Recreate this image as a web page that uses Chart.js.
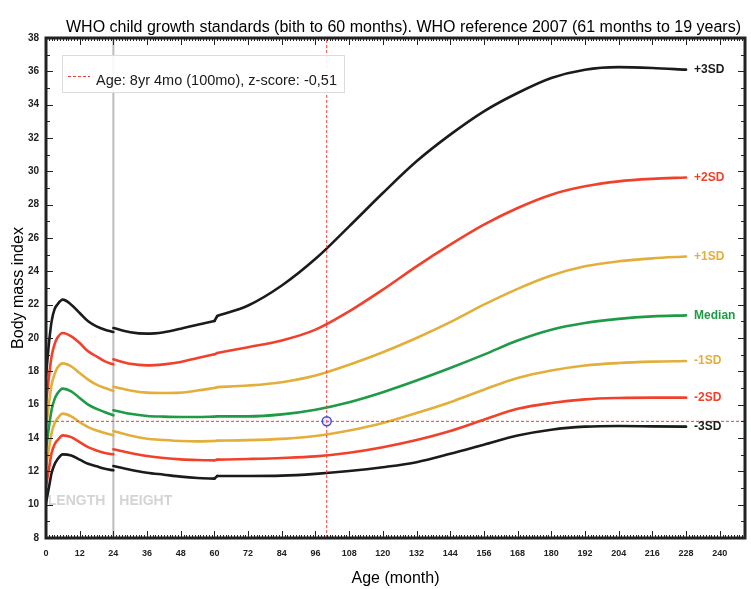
<!DOCTYPE html>
<html>
<head>
<meta charset="utf-8">
<script src="https://cdn.jsdelivr.net/npm/chart.js@4.4.1/dist/chart.umd.min.js"></script>
<style>
  body { margin: 0; background: #fff; }
</style>
</head>
<body>
<canvas id="bmiChart" width="751" height="589"></canvas>
<script>
// ages in months: recumbent length up to 24mo, standing height after,
// WHO 2007 reference from 61mo on
const lengthMonths = [0, 1, 2, 3, 4, 6, 9, 12, 15, 18, 21, 24];
const heightMonths = [24, 30, 36, 42, 48, 54, 60, 61, 72, 84, 96, 108, 120, 132, 144, 156, 168, 180, 192, 204, 216, 228];
const xTickValues = [0, 12, 24, 36, 48, 60, 72, 84, 96, 108, 120, 132, 144, 156, 168, 180, 192, 204, 216, 228, 240];

// BMI curves
const plus3Length  = [17.7, 19.6, 21.0, 21.7, 22.0, 22.3, 22.0, 21.5, 21.0, 20.7, 20.5, 20.36];
const plus3Height  = [20.6, 20.35, 20.26, 20.35, 20.56, 20.8, 21.02, 21.32, 21.95, 23.15, 24.75, 26.7, 28.7, 30.6, 32.2, 33.6, 34.7, 35.6, 36.1, 36.25, 36.2, 36.1];
const plus2Length  = [16.1, 17.6, 18.9, 19.6, 20.0, 20.3, 20.1, 19.7, 19.2, 18.9, 18.6, 18.42];
const plus2Height  = [18.72, 18.45, 18.36, 18.42, 18.56, 18.8, 19.02, 19.1, 19.45, 19.85, 20.5, 21.6, 22.9, 24.3, 25.6, 26.8, 27.8, 28.6, 29.1, 29.4, 29.55, 29.63];
const plus1Length  = [14.6, 16.0, 17.2, 17.8, 18.2, 18.48, 18.3, 17.9, 17.5, 17.2, 17.0, 16.82];
const plus1Height  = [17.08, 16.85, 16.72, 16.7, 16.72, 16.85, 17.0, 17.05, 17.15, 17.35, 17.75, 18.4, 19.15, 20.0, 20.95, 22.0, 22.95, 23.75, 24.3, 24.6, 24.78, 24.89];
const medianLength = [13.3, 14.6, 15.7, 16.3, 16.65, 16.96, 16.8, 16.4, 16.0, 15.75, 15.55, 15.36];
const medianHeight = [15.66, 15.45, 15.32, 15.28, 15.26, 15.26, 15.28, 15.3, 15.3, 15.42, 15.7, 16.15, 16.75, 17.45, 18.2, 19.0, 19.85, 20.5, 20.9, 21.15, 21.3, 21.36];
const minus1Length = [12.2, 13.3, 14.3, 14.85, 15.15, 15.46, 15.3, 14.95, 14.65, 14.45, 14.3, 14.16];
const minus1Height = [14.42, 14.15, 13.96, 13.88, 13.82, 13.8, 13.82, 13.84, 13.87, 13.95, 14.12, 14.45, 14.9, 15.5, 16.15, 16.9, 17.6, 18.05, 18.35, 18.5, 18.58, 18.62];
const minus2Length = [11.1, 12.1, 13.1, 13.6, 13.85, 14.16, 14.05, 13.75, 13.45, 13.25, 13.1, 13.02];
const minus2Height = [13.32, 13.1, 12.92, 12.8, 12.72, 12.68, 12.66, 12.7, 12.74, 12.8, 12.9, 13.12, 13.45, 13.88, 14.42, 15.1, 15.75, 16.1, 16.32, 16.4, 16.42, 16.42];
const minus3Length = [10.1, 11.0, 11.9, 12.4, 12.7, 13.02, 12.95, 12.7, 12.45, 12.3, 12.15, 12.06];
const minus3Height = [12.32, 12.1, 11.92, 11.8, 11.68, 11.6, 11.56, 11.72, 11.72, 11.74, 11.85, 12.02, 12.25, 12.55, 13.05, 13.6, 14.15, 14.5, 14.68, 14.72, 14.7, 14.68];

// the child being plotted
const patientAge = 100;
const patientBmi = 15.0;
const patientLabel = 'Age: 8yr 4mo (100mo), z-score: -0,51';

const xMin = 0, xMax = 249, yMin = 8, yMax = 38;
const referenceStart = 61;
const chartTitle = 'WHO child growth standards (bith to 60 months). WHO reference 2007 (61 months to 19 years)';

const BLACK = '#1b1b1b', RED = '#f2412b', GOLD = '#e3ae3a', GREEN = '#1f9a45';

function toPoints(months, values) {
  return months.map((m, i) => ({ x: m, y: values[i] }));
}

function curve(label, points, color) {
  return {
    label: label,
    data: points,
    borderColor: color,
    borderWidth: 2.6,
    borderCapStyle: 'round',
    pointRadius: 0,
    cubicInterpolationMode: 'monotone',
    fill: false,
    order: 2
  };
}

const curveDefs = [
  ['+3SD', plus3Length, plus3Height, BLACK],
  ['+2SD', plus2Length, plus2Height, RED],
  ['+1SD', plus1Length, plus1Height, GOLD],
  ['Median', medianLength, medianHeight, GREEN],
  ['-1SD', minus1Length, minus1Height, GOLD],
  ['-2SD', minus2Length, minus2Height, RED],
  ['-3SD', minus3Length, minus3Height, BLACK]
];

const datasets = [];
curveDefs.forEach(c => {
  const heightPts = toPoints(heightMonths, c[2]);
  const standard = heightPts.filter(p => p.x < referenceStart);
  const reference = heightPts.filter(p => p.x >= referenceStart);
  datasets.push(curve(c[0], toPoints(lengthMonths, c[1]), c[3]));
  datasets.push(curve(c[0], standard, c[3]));
  // short join between the 60mo standard and the 61mo reference
  datasets.push(curve(c[0], [standard[standard.length - 1], reference[0]], c[3]));
  const ref = curve(c[0], reference, c[3]);
  ref.endLabel = true;
  datasets.push(ref);
});

// length / height boundary
datasets.push({
  label: 'boundary',
  data: [{ x: 24, y: yMin }, { x: 24, y: yMax }],
  borderColor: '#bdbdbd', borderWidth: 2, pointRadius: 0, order: 5
});
// patient cross-hair
datasets.push({
  label: patientLabel,
  data: [{ x: patientAge, y: yMin }, { x: patientAge, y: yMax }],
  borderColor: '#e8433a', borderWidth: 1, borderDash: [3, 2], pointRadius: 0, order: 1
});
datasets.push({
  label: 'bmi line',
  data: [{ x: xMin, y: patientBmi }, { x: xMax, y: patientBmi }],
  borderColor: '#e8433a', borderWidth: 1, borderDash: [3, 2], pointRadius: 0, order: 1
});
datasets.push({
  label: 'patient',
  data: [{ x: patientAge, y: patientBmi }],
  showLine: false,
  pointRadius: 4.5,
  pointBorderWidth: 1.5,
  pointBorderColor: '#4b4bd0',
  pointBackgroundColor: 'rgba(120,120,255,0.15)',
  order: 0
});

const decorations = {
  id: 'decorations',
  beforeDatasetsDraw(chart) {
    const { ctx, chartArea: a, scales: { x, y } } = chart;
    ctx.save();
    ctx.beginPath();
    ctx.rect(a.left + 3, a.top, a.right - a.left, a.bottom - a.top);
    ctx.clip();
    ctx.font = 'bold 14px "Liberation Sans", Arial, sans-serif';
    ctx.fillStyle = '#d4d4d4';
    ctx.textBaseline = 'middle';
    ctx.textAlign = 'right';
    ctx.fillText('LENGTH', x.getPixelForValue(24) - 8, y.getPixelForValue(10.2));
    ctx.textAlign = 'left';
    ctx.fillText('HEIGHT', x.getPixelForValue(24) + 6, y.getPixelForValue(10.2));
    ctx.restore();
  },
  afterDatasetsDraw(chart) {
    const { ctx, chartArea: a, scales: { x, y } } = chart;
    ctx.save();

    // curve names at the end of each line
    ctx.font = 'bold 12px "Liberation Sans", Arial, sans-serif';
    ctx.textBaseline = 'middle';
    ctx.textAlign = 'left';
    chart.data.datasets.forEach((ds, i) => {
      if (!ds.endLabel) return;
      const pts = chart.getDatasetMeta(i).data;
      const last = pts[pts.length - 1];
      ctx.fillStyle = ds.borderColor;
      ctx.fillText(ds.label, last.x + 8, last.y);
    });

    // frame with inward ticks
    ctx.strokeStyle = '#222';
    ctx.lineWidth = 3;
    ctx.strokeRect(a.left, a.top, a.right - a.left, a.bottom - a.top);
    ctx.lineWidth = 1;
    ctx.beginPath();
    for (let m = xMin; m <= xMax; m++) {
      const px = Math.round(x.getPixelForValue(m)) + 0.5;
      const len = m % 12 === 0 ? 7 : 3;
      ctx.moveTo(px, a.bottom); ctx.lineTo(px, a.bottom - len);
      ctx.moveTo(px, a.top); ctx.lineTo(px, a.top + len);
    }
    for (let v = yMin; v <= yMax; v++) {
      const py = Math.round(y.getPixelForValue(v)) + 0.5;
      const len = v % 2 === 0 ? 7 : 4;
      ctx.moveTo(a.left, py); ctx.lineTo(a.left + len, py);
      ctx.moveTo(a.right, py); ctx.lineTo(a.right - len, py);
    }
    ctx.stroke();

    // legend box
    const lx = a.left + 16, ly = a.top + 17;
    ctx.fillStyle = 'rgba(255,255,255,0.9)';
    ctx.fillRect(lx, ly, 282, 37);
    ctx.strokeStyle = '#dcdcdc';
    ctx.strokeRect(lx + 0.5, ly + 0.5, 282, 37);
    ctx.strokeStyle = '#e8433a';
    ctx.setLineDash([3, 2]);
    ctx.beginPath();
    ctx.moveTo(lx + 6, ly + 21.5); ctx.lineTo(lx + 28, ly + 21.5);
    ctx.stroke();
    ctx.setLineDash([]);
    ctx.fillStyle = '#1a1a1a';
    ctx.font = '14.5px "Liberation Sans", Arial, sans-serif';
    ctx.textBaseline = 'middle';
    ctx.fillText(patientLabel, lx + 34, ly + 26);

    // title over the plot area
    ctx.font = '16px "Liberation Sans", Arial, sans-serif';
    ctx.textAlign = 'center';
    ctx.fillStyle = '#000';
    ctx.fillText(chartTitle, (a.left + a.right) / 2 + 8, 28);
    ctx.restore();
  }
};

new Chart(document.getElementById('bmiChart'), {
  type: 'line',
  data: { datasets: datasets },
  options: {
    responsive: false,
    animation: false,
    layout: { padding: { top: 38, right: 3, left: 0, bottom: 0 } },
    plugins: {
      legend: { display: false },
      tooltip: { enabled: false },
      title: { display: false }
    },
    scales: {
      x: {
        type: 'linear', min: xMin, max: xMax,
        grid: { display: false, drawTicks: false }, border: { display: false },
        ticks: { autoSkip: false, maxRotation: 0, padding: 10, color: '#222', font: { size: 9, weight: 'bold' } },
        afterBuildTicks: s => { s.ticks = xTickValues.map(v => ({ value: v })); },
        afterFit: s => { s.height = 51; },
        title: { display: true, text: 'Age (month)', color: '#000', font: { size: 16 }, padding: { top: 0, bottom: 1 } }
      },
      y: {
        min: yMin, max: yMax,
        grid: { display: false, drawTicks: false }, border: { display: false },
        ticks: { stepSize: 2, padding: 7, color: '#222', font: { size: 10, weight: 'bold' } },
        afterFit: s => { s.width = 46; },
        title: { display: true, text: 'Body mass index', color: '#000', font: { size: 16 }, padding: { top: 9, bottom: 0 } }
      }
    }
  },
  plugins: [decorations]
});
</script>
</body>
</html>
